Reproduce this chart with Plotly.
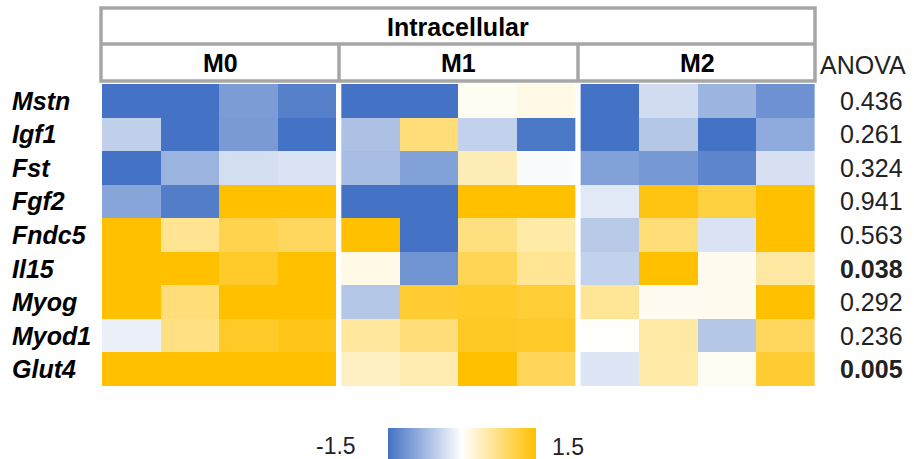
import plotly.graph_objects as go

genes = ["Mstn", "Igf1", "Fst", "Fgf2", "Fndc5", "Il15", "Myog", "Myod1", "Glut4"]
groups = ["M0", "M1", "M2"]
anova = ["0.436", "0.261", "0.324", "0.941", "0.563", "0.038", "0.292", "0.236", "0.005"]
anova_bold = [False, False, False, False, False, True, False, False, True]

m0 = [
    [-1.5, -1.5, -1.05, -1.35],
    [-0.5, -1.5, -1.07, -1.5],
    [-1.5, -0.81, -0.35, -0.3],
    [-0.95, -1.38, 1.5, 1.5],
    [1.5, 0.64, 1.04, 0.95],
    [1.5, 1.5, 1.25, 1.5],
    [1.5, 0.78, 1.5, 1.5],
    [-0.15, 0.73, 1.27, 1.35],
    [1.5, 1.5, 1.5, 1.5],
]
m1 = [
    [-1.5, -1.5, 0.08, 0.15],
    [-0.66, 0.78, -0.48, -1.45],
    [-0.7, -1.0, 0.42, -0.04],
    [-1.5, -1.5, 1.5, 1.5],
    [1.5, -1.5, 0.75, 0.51],
    [0.15, -1.15, 1.0, 0.63],
    [-0.6, 1.2, 1.25, 1.18],
    [0.57, 0.78, 1.28, 1.27],
    [0.35, 0.46, 1.5, 0.97],
]
m2 = [
    [-1.5, -0.37, -0.8, -1.17],
    [-1.5, -0.6, -1.5, -0.9],
    [-1.0, -1.1, -1.3, -0.33],
    [-0.23, 1.4, 1.13, 1.5],
    [-0.56, 0.8, -0.3, 1.5],
    [-0.48, 1.5, 0.1, 0.55],
    [0.62, 0.09, 0.1, 1.5],
    [0.03, 0.53, -0.6, 0.95],
    [-0.27, 0.51, 0.07, 1.2],
]
cbar_labels = ["-1.5", "1.5"]

W, H = 914, 459
def px(x):
    return x / W
def py(y):
    return 1 - y / H

FONT = "Liberation Sans, Arial, sans-serif"
gap = 5 / 59.0
fig = go.Figure()
for g, data in enumerate([m0, m1, m2]):
    xs = [g * (4 + gap) + c for c in range(4)]
    fig.add_trace(go.Heatmap(
        z=data, x=xs, y=list(range(len(genes))),
        coloraxis="coloraxis", hoverinfo="skip", xgap=0, ygap=0,
    ))

x_max = 11 + 2 * gap + 0.5
fig.update_layout(
    width=W, height=H,
    margin=dict(l=0, r=0, t=0, b=0),
    plot_bgcolor="white", paper_bgcolor="white",
    xaxis=dict(domain=[px(102), px(815)], range=[-0.5, x_max], visible=False, fixedrange=True),
    yaxis=dict(domain=[py(386), py(84)], range=[len(genes) - 0.5, -0.5], visible=False, fixedrange=True),
    coloraxis=dict(
        cmin=-1.5, cmax=1.5,
        colorscale=[[0, "#4472C4"], [0.5, "#FFFFFF"], [1, "#FFC000"]],
        colorbar=dict(
            orientation="h", x=px(462), xanchor="center",
            y=py(428), yanchor="top", lenmode="pixels", len=148,
            thickness=31, outlinewidth=0, showticklabels=False, ticks="",
            xpad=0, ypad=0,
        ),
    ),
    showlegend=False,
)

gray = "#A6A6A6"
shapes = [
    dict(type="rect", xref="paper", yref="paper", x0=px(101), x1=px(815), y0=py(81), y1=py(8),
         line=dict(color=gray, width=3.5)),
    dict(type="line", xref="paper", yref="paper", x0=px(101), x1=px(815), y0=py(44), y1=py(44),
         line=dict(color=gray, width=3.5)),
    dict(type="line", xref="paper", yref="paper", x0=px(339), x1=px(339), y0=py(44), y1=py(81),
         line=dict(color=gray, width=3.5)),
    dict(type="line", xref="paper", yref="paper", x0=px(578), x1=px(578), y0=py(44), y1=py(81),
         line=dict(color=gray, width=3.5)),
]
fig.update_layout(shapes=shapes)

ann = []
ann.append(dict(text="<b>Intracellular</b>", x=px(458), y=py(27), xref="paper", yref="paper",
                showarrow=False, font=dict(family=FONT, size=25, color="black"),
                xanchor="center", yanchor="middle"))
for g, cx in zip(groups, [220, 458, 697]):
    ann.append(dict(text=f"<b>{g}</b>", x=px(cx), y=py(63), xref="paper", yref="paper",
                    showarrow=False, font=dict(family=FONT, size=25, color="black"),
                    xanchor="center", yanchor="middle"))
ann.append(dict(text="ANOVA", x=px(908), y=py(65), xref="paper", yref="paper",
                showarrow=False, font=dict(family=FONT, size=25, color="#222222"),
                xanchor="right", yanchor="middle"))
for i, gname in enumerate(genes):
    ann.append(dict(text=f"<b><i>{gname}</i></b>", x=px(10), y=i, xref="paper", yref="y",
                    showarrow=False, font=dict(family=FONT, size=25, color="black"),
                    xanchor="left", yanchor="middle"))
    txt = f"<b>{anova[i]}</b>" if anova_bold[i] else anova[i]
    ann.append(dict(text=txt, x=px(905), y=i, xref="paper", yref="y",
                    showarrow=False, font=dict(family=FONT, size=25, color="#222222"),
                    xanchor="right", yanchor="middle"))
ann.append(dict(text=cbar_labels[0], x=px(336), y=py(446), xref="paper", yref="paper",
                showarrow=False, font=dict(family=FONT, size=23, color="#222222"),
                xanchor="center", yanchor="middle"))
ann.append(dict(text=cbar_labels[1], x=px(568), y=py(447), xref="paper", yref="paper",
                showarrow=False, font=dict(family=FONT, size=23, color="#222222"),
                xanchor="center", yanchor="middle"))
fig.update_layout(annotations=ann)

fig.write_html("out.html")
